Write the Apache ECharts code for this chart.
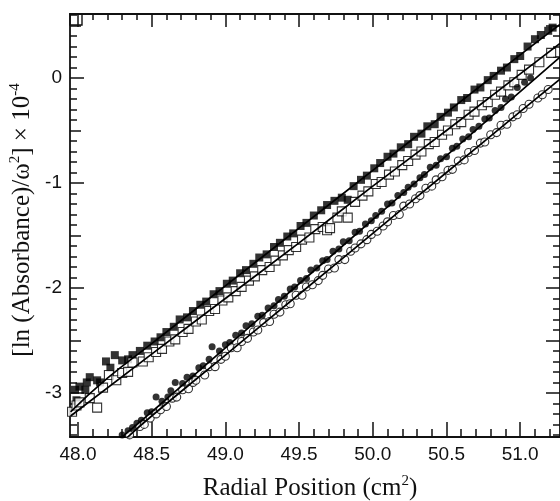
<!DOCTYPE html>
<html>
<head>
<meta charset="utf-8">
<script src="https://cdn.jsdelivr.net/npm/echarts@6/dist/echarts.min.js"></script>
<style>
html,body{margin:0;padding:0;background:#fff;}
#chart{width:560px;height:501px;}
</style>
</head>
<body>
<div id="chart"></div>
<script>
// 数据：[r², ln(A)/ω² ×10^-4]
var filledSquares = [
    [47.98,-2.97],[47.99,-3.07],[48.01,-2.94],[48.05,-2.97],[48.06,-2.90],[48.08,-2.85],[48.13,-2.88],[48.15,-2.90],
    [48.19,-2.70],[48.22,-2.76],[48.25,-2.64],[48.30,-2.69],[48.34,-2.68],[48.37,-2.64],[48.42,-2.60],[48.47,-2.55],
    [48.52,-2.51],[48.56,-2.47],[48.60,-2.42],[48.65,-2.37],[48.69,-2.30],[48.74,-2.28],[48.78,-2.22],[48.83,-2.16],
    [48.87,-2.13],[48.92,-2.06],[48.96,-2.03],[49.01,-1.96],[49.05,-1.93],[49.10,-1.86],[49.14,-1.83],[49.19,-1.77],
    [49.23,-1.71],[49.28,-1.68],[49.33,-1.61],[49.37,-1.57],[49.42,-1.51],[49.46,-1.48],[49.51,-1.41],[49.55,-1.38],
    [49.60,-1.31],[49.65,-1.26],[49.69,-1.21],[49.74,-1.17],[49.79,-1.14],[49.83,-1.16],[49.87,-1.03],[49.92,-0.97],
    [49.96,-0.93],[50.01,-0.86],[50.05,-0.81],[50.10,-0.75],[50.14,-0.72],[50.19,-0.66],[50.24,-0.63],[50.28,-0.56],
    [50.33,-0.53],[50.37,-0.46],[50.42,-0.44],[50.46,-0.37],[50.51,-0.33],[50.55,-0.28],[50.60,-0.21],[50.64,-0.19],
    [50.69,-0.11],[50.73,-0.09],[50.78,-0.02],[50.82,0.02],[50.87,0.07],[50.91,0.10],[50.96,0.18],[51.00,0.21],
    [51.05,0.30],[51.10,0.37],[51.14,0.41],[51.19,0.45],[51.22,0.48]
];
var openSquares = [
    [47.96,-3.18],[47.99,-3.12],[48.01,-3.09],[48.08,-3.05],[48.13,-3.14],[48.17,-2.95],[48.21,-2.83],[48.26,-2.88],
    [48.30,-2.81],[48.34,-2.80],[48.37,-2.71],[48.44,-2.70],[48.48,-2.66],[48.53,-2.61],[48.57,-2.58],[48.62,-2.51],
    [48.66,-2.49],[48.71,-2.42],[48.75,-2.39],[48.80,-2.32],[48.84,-2.30],[48.89,-2.22],[48.93,-2.20],[48.98,-2.12],
    [49.02,-2.09],[49.07,-2.03],[49.11,-1.99],[49.16,-1.93],[49.20,-1.89],[49.25,-1.83],[49.30,-1.80],[49.34,-1.74],
    [49.39,-1.69],[49.43,-1.64],[49.48,-1.61],[49.52,-1.54],[49.57,-1.52],[49.61,-1.44],[49.66,-1.42],[49.69,-1.45],
    [49.71,-1.43],[49.76,-1.33],[49.79,-1.27],[49.83,-1.33],[49.88,-1.18],[49.93,-1.12],[49.97,-1.08],[50.02,-1.01],
    [50.06,-0.99],[50.11,-0.92],[50.15,-0.89],[50.20,-0.83],[50.24,-0.79],[50.29,-0.73],[50.33,-0.70],[50.38,-0.63],
    [50.42,-0.61],[50.47,-0.54],[50.51,-0.50],[50.56,-0.44],[50.60,-0.42],[50.65,-0.35],[50.69,-0.32],[50.74,-0.26],
    [50.78,-0.23],[50.83,-0.16],[50.87,-0.13],[50.92,-0.07],[50.96,-0.04],[51.01,0.03],[51.06,0.08],[51.13,0.15],
    [51.21,0.24]
];
var filledCircles = [
    [48.30,-3.40],[48.31,-3.45],[48.34,-3.36],[48.37,-3.33],[48.40,-3.29],[48.43,-3.26],[48.47,-3.19],[48.50,-3.18],
    [48.53,-3.04],[48.57,-3.08],[48.61,-3.04],[48.63,-2.98],[48.66,-2.90],[48.71,-2.91],[48.74,-2.85],[48.78,-2.84],
    [48.82,-2.76],[48.85,-2.74],[48.89,-2.68],[48.91,-2.56],[48.96,-2.60],[49.00,-2.54],[49.03,-2.52],[49.07,-2.45],
    [49.11,-2.43],[49.14,-2.36],[49.18,-2.34],[49.22,-2.27],[49.25,-2.26],[49.29,-2.19],[49.33,-2.17],[49.36,-2.11],
    [49.40,-2.08],[49.44,-2.01],[49.47,-1.99],[49.51,-1.93],[49.55,-1.91],[49.58,-1.83],[49.62,-1.81],[49.66,-1.74],
    [49.69,-1.73],[49.73,-1.65],[49.77,-1.63],[49.80,-1.56],[49.84,-1.55],[49.88,-1.47],[49.91,-1.46],[49.95,-1.39],
    [49.99,-1.36],[50.02,-1.31],[50.06,-1.27],[50.10,-1.20],[50.13,-1.19],[50.17,-1.12],[50.21,-1.09],[50.24,-1.04],
    [50.28,-1.01],[50.32,-0.95],[50.35,-0.92],[50.39,-0.85],[50.43,-0.83],[50.46,-0.77],[50.50,-0.75],[50.54,-0.67],
    [50.57,-0.65],[50.61,-0.58],[50.65,-0.56],[50.68,-0.49],[50.72,-0.46],[50.76,-0.39],[50.79,-0.38],[50.83,-0.31],
    [50.87,-0.28],[50.90,-0.20],[50.94,-0.18],[50.98,-0.09],[51.03,-0.04],[51.07,0.00]
];
var openCircles = [
    [48.35,-3.40],[48.38,-3.43],[48.42,-3.32],[48.45,-3.30],[48.49,-3.24],[48.53,-3.20],[48.56,-3.16],[48.60,-3.13],
    [48.64,-3.05],[48.67,-3.04],[48.71,-2.97],[48.75,-2.96],[48.78,-2.90],[48.80,-2.88],[48.86,-2.83],[48.89,-2.75],
    [48.93,-2.75],[48.97,-2.68],[49.00,-2.65],[49.04,-2.57],[49.08,-2.57],[49.11,-2.51],[49.15,-2.48],[49.19,-2.42],
    [49.22,-2.40],[49.26,-2.33],[49.30,-2.32],[49.33,-2.25],[49.37,-2.23],[49.41,-2.16],[49.44,-2.15],[49.48,-2.07],
    [49.52,-2.07],[49.55,-1.99],[49.59,-1.97],[49.63,-1.93],[49.66,-1.88],[49.70,-1.82],[49.74,-1.81],[49.77,-1.73],
    [49.81,-1.73],[49.85,-1.65],[49.88,-1.62],[49.92,-1.58],[49.96,-1.54],[49.99,-1.49],[50.03,-1.46],[50.07,-1.41],
    [50.10,-1.37],[50.14,-1.31],[50.18,-1.30],[50.21,-1.22],[50.25,-1.20],[50.29,-1.15],[50.32,-1.12],[50.36,-1.05],
    [50.40,-1.03],[50.43,-0.97],[50.47,-0.94],[50.51,-0.88],[50.54,-0.87],[50.58,-0.79],[50.62,-0.78],[50.65,-0.71],
    [50.69,-0.69],[50.73,-0.62],[50.76,-0.61],[50.80,-0.54],[50.84,-0.52],[50.87,-0.45],[50.91,-0.44],[50.95,-0.37],
    [50.98,-0.35],[51.02,-0.29],[51.06,-0.25],[51.12,-0.19],[51.15,-0.16],[51.19,-0.11]
];
// 拟合线
var fitFilledSquares = [[47.95,-3.18],[48.2,-2.86],[48.5,-2.53],[49.0,-1.98],[49.5,-1.43],[50.0,-0.88],[50.5,-0.33],[51.0,0.22],[51.27,0.51]];
var fitOpenSquares = [[47.95,-3.22],[48.5,-2.63],[49.0,-2.10],[49.5,-1.57],[50.0,-1.03],[50.5,-0.50],[51.0,0.04],[51.27,0.33]];
var fitFilledCircles = [[48.29,-3.43],[48.5,-3.18],[49.0,-2.57],[49.5,-1.96],[50.0,-1.35],[50.5,-0.74],[51.0,-0.13],[51.27,0.20]];
var fitOpenCircles = [[48.33,-3.43],[48.5,-3.22],[49.0,-2.64],[49.5,-2.06],[50.0,-1.48],[50.5,-0.90],[51.0,-0.32],[51.27,-0.01]];

// 刻度
var xMajorTicks = [48.0, 48.5, 49.0, 49.5, 50.0, 50.5, 51.0];
var yLabelTicks = [-3, -2, -1, 0];
var yHalfTicks = [-3.0, -2.5, -2.0, -1.5, -1.0, -0.5, 0.0, 0.5];

var X_MIN = 47.946, X_MAX = 51.27, Y_MIN = -3.42, Y_MAX = 0.61;

function steps(a, b, s) {
    var out = [];
    for (var v = a; v <= b + 1e-9; v += s) out.push(Math.round(v * 10) / 10);
    return out;
}
var xMinorTicks = steps(47.9, 51.3, 0.1).filter(function (v) { return v >= X_MIN && v <= X_MAX; });
var yMinorTicks = steps(-3.4, 0.6, 0.1);

var ink = '#111';
function xAx(pos, ticks, len, line, labels) {
    return {
        type: 'value', position: pos, min: X_MIN, max: X_MAX,
        axisLine: {show: line, onZero: false, lineStyle: {color: ink, width: 1.8}},
        axisTick: {show: true, inside: true, length: len, customValues: ticks, lineStyle: {color: ink, width: 1.5}},
        axisLabel: labels ? {
            show: true, customValues: ticks, margin: 8, color: ink, fontSize: 19,
            fontFamily: 'Liberation Sans', formatter: function (v) { return v.toFixed(1); }
        } : {show: false},
        splitLine: {show: false}
    };
}
function yAx(pos, ticks, len, line, labels) {
    return {
        type: 'value', position: pos, min: Y_MIN, max: Y_MAX,
        axisLine: {show: line, onZero: false, lineStyle: {color: ink, width: 1.8}},
        axisTick: {show: true, inside: true, length: len, customValues: ticks, lineStyle: {color: ink, width: 1.5}},
        axisLabel: labels ? {
            show: true, customValues: ticks, margin: 8, color: ink, fontSize: 19,
            fontFamily: 'Liberation Sans', formatter: function (v) { return String(Math.round(v)); }
        } : {show: false},
        splitLine: {show: false}
    };
}

var myChart = echarts.init(document.getElementById('chart'));
var option = {
    animation: false,
    backgroundColor: '#fff',
    grid: {left: 70, right: -4, top: 14, bottom: 64, containLabel: false},
    xAxis: [
        xAx('bottom', xMajorTicks, 15, true, true),
        xAx('bottom', xMinorTicks, 8, false, false),
        xAx('top', xMajorTicks, 13, true, false),
        xAx('top', xMinorTicks, 6, false, false)
    ],
    yAxis: [
        yAx('left', yLabelTicks, 14, true, true),
        yAx('left', yHalfTicks, 11, false, false),
        yAx('left', yMinorTicks, 7, false, false),
        yAx('right', yHalfTicks, 14, true, false),
        yAx('right', yMinorTicks, 7, false, false)
    ],
    graphic: [
        {
            type: 'text', x: 22, y: 220, rotation: Math.PI / 2,
            style: {
                text: '{a|[ln (Absorbance)/ω}{s|2}{a|] × 10}{s|-4}',
                align: 'center', verticalAlign: 'middle', fill: ink,
                rich: {
                    a: {fontSize: 25, fontFamily: 'Liberation Serif', lineHeight: 28, fill: ink},
                    s: {fontSize: 15, fontFamily: 'Liberation Serif', lineHeight: 15, verticalAlign: 'top', fill: ink}
                }
            }
        },
        {
            type: 'text', x: 310, y: 488,
            style: {
                text: '{a|Radial Position (cm}{s|2}{a|)}',
                align: 'center', verticalAlign: 'middle', fill: ink,
                rich: {
                    a: {fontSize: 25, fontFamily: 'Liberation Serif', lineHeight: 28, fill: ink},
                    s: {fontSize: 15, fontFamily: 'Liberation Serif', lineHeight: 15, verticalAlign: 'top', fill: ink}
                }
            }
        },
        {
            type: 'rect', shape: {x: 70, y: 14, width: 12, height: 11},
            style: {fill: 'none', stroke: ink, lineWidth: 1.4}
        }
    ],
    series: [
        {type: 'scatter', name: 'filled squares', symbol: 'rect', symbolSize: 8,
            itemStyle: {color: '#000'}, data: filledSquares},
        {type: 'scatter', name: 'open squares', symbol: 'rect', symbolSize: 9,
            itemStyle: {color: '#fff', borderColor: '#000', borderWidth: 1.1}, data: openSquares},
        {type: 'scatter', name: 'filled circles', symbol: 'circle', symbolSize: 7,
            itemStyle: {color: '#000'}, data: filledCircles},
        {type: 'scatter', name: 'open circles', symbol: 'circle', symbolSize: 8,
            itemStyle: {color: '#fff', borderColor: '#000', borderWidth: 1.1}, data: openCircles},
        {type: 'line', symbol: 'none', smooth: true, lineStyle: {color: '#000', width: 1.7}, data: fitFilledSquares, z: 3},
        {type: 'line', symbol: 'none', smooth: true, lineStyle: {color: '#000', width: 1.7}, data: fitOpenSquares, z: 3},
        {type: 'line', symbol: 'none', smooth: true, lineStyle: {color: '#000', width: 1.7}, data: fitFilledCircles, z: 3},
        {type: 'line', symbol: 'none', smooth: true, lineStyle: {color: '#000', width: 1.7}, data: fitOpenCircles, z: 3}
    ]
};
myChart.setOption(option);
</script>
</body>
</html>
